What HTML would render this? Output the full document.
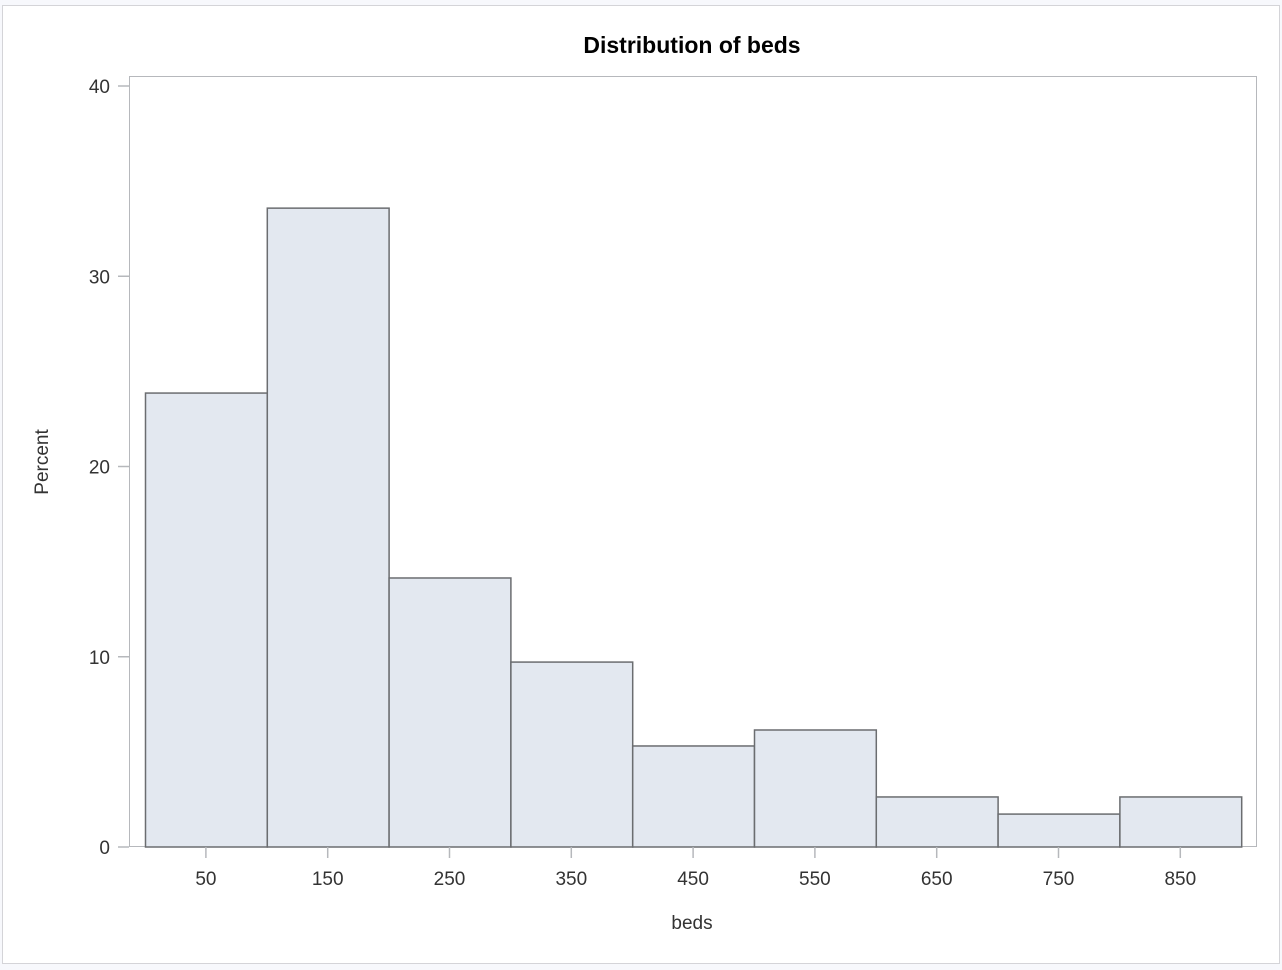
<!DOCTYPE html>
<html><head><meta charset="utf-8"><style>
html,body{margin:0;padding:0;background:#f7f8fc;}
svg{display:block;font-family:"Liberation Sans",Arial,sans-serif;}
</style></head><body>
<svg width="1282" height="970">
<rect x="2.5" y="5.5" width="1277" height="958" fill="#fff" stroke="#d4d4d8"/>
<text x="692" y="53" text-anchor="middle" font-size="23" font-weight="bold" fill="#000">Distribution of beds</text>
<rect x="129.5" y="76.5" width="1127" height="770" fill="none" stroke="#b6b8bc"/>
<g id="bars"></g>
<g id="yaxis"></g>
<g id="xaxis"></g>
<text transform="translate(48,462) rotate(-90)" text-anchor="middle" font-size="19" fill="#333">Percent</text>
<text x="692" y="929" text-anchor="middle" font-size="19" fill="#333">beds</text>
</svg>
<script>
const binStarts=[0,100,200,300,400,500,600,700,800];
const percents=[23.86,33.58,14.14,9.72,5.31,6.15,2.63,1.73,2.63];
const yTicks=[0,10,20,30,40];
const xTicks=[50,150,250,350,450,550,650,750,850];
const binWidth=100;
const NS="http://www.w3.org/2000/svg";
function xs(v){return 145+v*1.218;}
function ys(v){return 847-v*19.025;}
function mk(tag,attrs,parent){const e=document.createElementNS(NS,tag);for(const k in attrs)e.setAttribute(k,attrs[k]);parent.appendChild(e);return e;}
const bars=document.getElementById('bars');
binStarts.forEach((b,i)=>{
 const r=mk('rect',{x:xs(b)+0.5,y:ys(percents[i]),width:xs(b+binWidth)-xs(b),height:ys(0)-ys(percents[i]),fill:'#e3e8f0',stroke:'#6b6d70','stroke-width':1.5},bars);
 
 
});
const ya=document.getElementById('yaxis');
yTicks.forEach(t=>{
 const y=ys(t);
 const l=mk('line',{x1:118,x2:129,y1:y,y2:y,stroke:'#b6b8bc','stroke-width':1.5},ya);
 
 
 const tx=mk('text',{x:110,y:y+7,'text-anchor':'end','font-size':19,fill:'#333'},ya);
 tx.textContent=t;
 
 
});
const xa=document.getElementById('xaxis');
xTicks.forEach(t=>{
 const x=xs(t);
 const l=mk('line',{x1:x,x2:x,y1:847,y2:858,stroke:'#b6b8bc','stroke-width':1.5},xa);
 
 
 const tx=mk('text',{x:x,y:885,'text-anchor':'middle','font-size':19,fill:'#333'},xa);
 tx.textContent=t;
 
 
});
</script>
</body></html>
